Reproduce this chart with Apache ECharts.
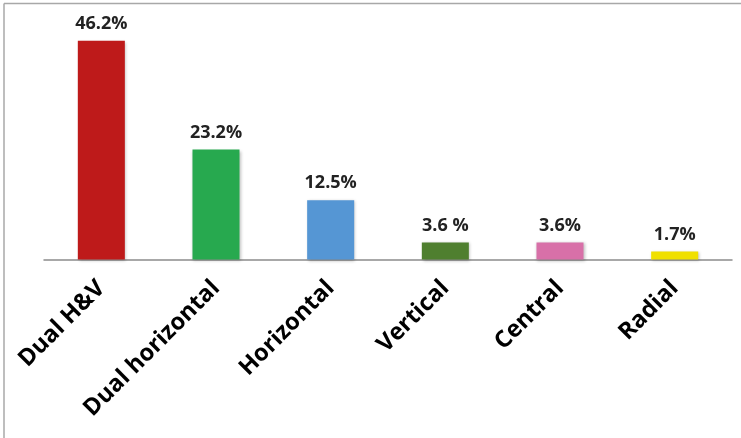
<!DOCTYPE html>
<html>
<head>
<meta charset="utf-8">
<script src="https://cdn.jsdelivr.net/npm/echarts@6/dist/echarts.min.js"></script>
<style>
  html, body { margin: 0; padding: 0; background: #fff; }
  #chart { width: 741px; height: 438px; }
</style>
</head>
<body>
<div id="chart"></div>
<script>
// Share of each type (percent)
const categories = ['Dual H&V', 'Dual horizontal', 'Horizontal', 'Vertical', 'Central', 'Radial'];
const values = [46.2, 23.2, 12.5, 3.6, 3.6, 1.7];
const valueLabels = ['46.2%', '23.2%', '12.5%', '3.6 %', '3.6%', '1.7%'];
const barColors = ['#be1a1a', '#27a94f', '#5596d4', '#4f7f2f', '#d870a8', '#f0e000'];

const chart = echarts.init(document.getElementById('chart'), null, { renderer: 'canvas' });

chart.setOption({
  animation: false,
  backgroundColor: '#fff',
  grid: { left: 44, right: 9, top: 22.7, bottom: 178.5, containLabel: false },
  xAxis: {
    type: 'category',
    data: categories,
    axisLine: { show: true, lineStyle: { color: '#8c8c8c', width: 1.5 } },
    axisTick: { show: false },
    axisLabel: {
      rotate: 45,
      margin: 25,
      interval: 0,
      color: '#000',
      fontFamily: 'Open Sans',
      fontWeight: 'bold',
      fontSize: 23.5
    }
  },
  yAxis: {
    type: 'value',
    min: 0,
    max: 50,
    show: false,
    splitLine: { show: false }
  },
  series: [{
    type: 'bar',
    barWidth: '41%',
    data: values.map((v, i) => ({
      value: v,
      itemStyle: { color: barColors[i], shadowColor: 'rgba(0,0,0,0.25)', shadowBlur: 3, shadowOffsetX: 1, shadowOffsetY: 1 }
    })),
    label: {
      show: true,
      position: 'top',
      distance: 8,
      color: '#222',
      fontFamily: 'Open Sans',
      fontWeight: 'bold',
      fontSize: 18,
      formatter: p => valueLabels[p.dataIndex]
    }
  }],
  graphic: [
    { type: 'line', shape: { x1: 4, y1: 3.5, x2: 741, y2: 3.5 }, style: { stroke: '#a8a8a8', lineWidth: 1.5 } },
    { type: 'line', shape: { x1: 4, y1: 3.5, x2: 4, y2: 438 }, style: { stroke: '#a8a8a8', lineWidth: 1.5 } }
  ]
});
</script>
</body>
</html>
